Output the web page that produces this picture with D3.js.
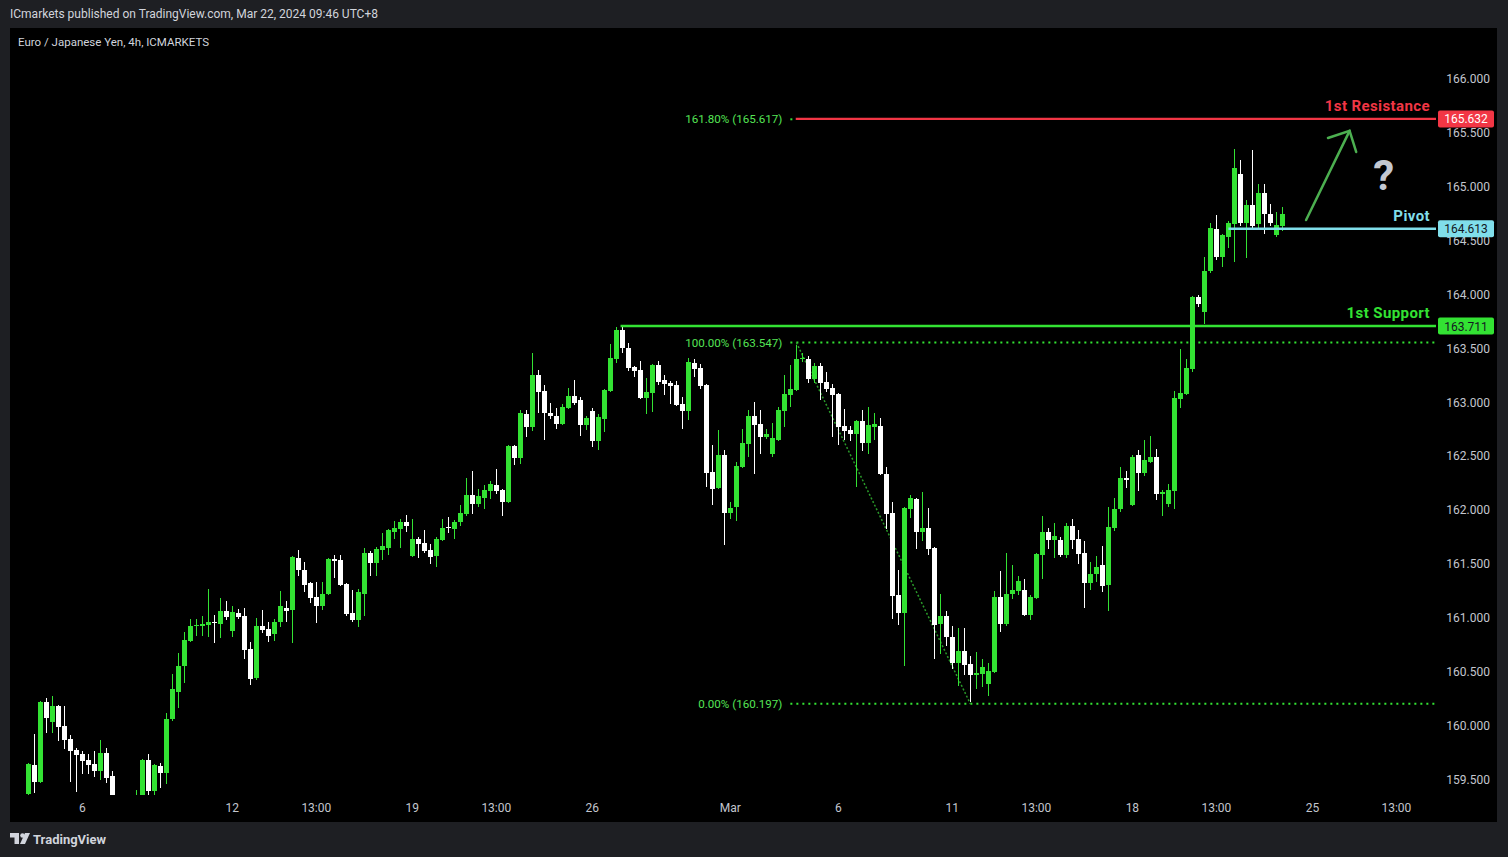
<!DOCTYPE html>
<html><head><meta charset="utf-8">
<script src="https://cdn.jsdelivr.net/npm/d3@7"></script>
<style>
html,body{margin:0;padding:0;background:#1e1f23;}
svg{display:block;font-family:Roboto,"Liberation Sans",sans-serif;}
</style></head><body>
<svg id="c" width="1508" height="857"></svg>
<script>
// ---- data (EUR/JPY 4h) ----
const open=[159.36,159.63,159.47,160.21,160.03,160.18,159.99,159.87,159.77,159.73,159.68,159.64,159.57,159.74,159.53,159.30,159.20,159.25,159.22,159.30,
159.68,159.39,159.62,159.56,160.06,160.31,160.55,160.78,160.92,160.92,160.93,160.96,160.94,161.06,160.87,161.04,161.01,160.71,160.44,160.92,
160.89,160.84,160.96,161.09,161.07,161.55,161.44,161.32,161.19,161.10,161.22,161.54,161.53,161.31,161.04,160.97,161.22,161.60,161.50,161.62,
161.64,161.79,161.82,161.88,161.57,161.73,161.69,161.62,161.57,161.72,161.84,161.82,161.88,161.96,162.13,162.05,162.11,162.17,162.23,162.18,
162.07,162.59,162.48,162.88,162.76,163.25,163.10,162.89,162.87,162.79,162.94,163.05,163.01,162.78,162.91,162.63,162.84,163.10,163.39,163.66,
163.50,163.32,163.29,163.03,163.08,163.34,163.20,163.17,163.15,162.98,162.91,163.36,163.31,163.15,162.35,162.20,162.50,161.97,162.02,162.39,
162.61,162.87,162.79,162.67,162.51,162.64,162.91,163.06,163.11,163.39,163.39,163.21,163.33,163.18,163.13,163.07,162.77,162.74,162.70,162.82,
162.62,162.76,162.77,162.33,161.97,161.21,161.04,162.00,162.10,161.79,161.83,161.64,160.94,161.01,160.82,160.58,160.69,160.57,160.46,160.47,
160.38,160.49,161.19,160.94,161.22,161.24,161.25,161.02,161.18,161.58,161.79,161.72,161.72,161.58,161.85,161.73,161.60,161.32,161.40,161.48,
161.30,161.83,162.00,162.29,162.04,162.50,162.34,162.44,162.49,162.14,162.05,162.17,163.02,163.07,163.30,163.97,163.83,164.21,164.60,164.34,
164.53,164.65,165.11,164.66,164.82,164.65,164.93,164.74,164.54,164.63];
const high=[159.65,159.92,160.22,160.25,160.27,160.19,160.18,159.91,159.79,159.76,159.73,159.76,159.86,159.79,159.57,159.33,159.30,159.32,159.40,159.69,
159.73,159.64,159.65,160.11,160.47,160.67,160.86,160.98,160.98,161.01,161.26,161.02,161.18,161.15,161.10,161.08,161.09,160.77,160.99,161.07,
160.96,160.98,161.24,161.15,161.57,161.62,161.51,161.33,161.33,161.33,161.55,161.58,161.58,161.32,161.25,161.26,161.64,161.61,161.65,161.78,
161.82,161.89,161.91,161.95,161.91,161.74,161.81,161.68,161.74,161.91,161.93,161.90,162.04,162.29,162.36,162.19,162.23,162.26,162.37,162.19,
162.60,162.60,162.92,162.92,163.45,163.29,163.15,162.99,162.94,162.98,163.13,163.20,163.04,162.87,162.94,162.88,163.12,163.53,163.69,163.71,
163.54,163.33,163.38,163.22,163.35,163.38,163.25,163.19,163.19,163.04,163.40,163.39,163.35,163.16,162.60,162.74,162.55,162.07,162.44,162.75,
162.92,163.00,162.92,162.75,162.80,162.95,163.25,163.34,163.52,163.45,163.42,163.36,163.36,163.27,163.16,163.08,162.93,162.77,162.83,162.92,
162.95,162.89,162.85,162.39,162.07,161.44,162.02,162.13,162.11,162.16,162.01,161.65,161.22,161.06,160.92,160.90,160.90,160.64,160.68,160.61,
160.58,161.24,161.43,161.60,161.48,161.38,161.35,161.21,161.60,161.94,161.83,161.87,161.74,161.87,161.91,161.81,161.71,161.51,161.57,161.66,
162.02,162.11,162.39,162.36,162.50,162.55,162.64,162.68,162.56,162.18,162.24,163.10,163.49,163.39,163.98,163.99,164.34,164.66,164.73,164.55,
164.67,165.34,165.24,164.87,165.33,165.02,165.02,164.83,164.76,164.80];
const low=[159.33,159.37,159.46,159.93,159.93,159.85,159.78,159.47,159.38,159.55,159.55,159.52,159.49,159.46,159.28,159.15,159.12,159.15,159.18,159.25,
159.33,159.33,159.42,159.45,160.04,160.16,160.39,160.77,160.83,160.83,160.82,160.76,160.81,160.97,160.82,160.98,160.61,160.37,160.42,160.85,
160.77,160.78,160.91,160.96,160.76,161.38,161.23,161.13,160.95,161.07,161.21,161.36,161.29,161.01,160.96,160.91,161.01,161.38,161.38,161.53,
161.58,161.73,161.64,161.79,161.56,161.55,161.60,161.49,161.47,161.71,161.78,161.73,161.85,161.94,161.96,162.02,162.00,162.10,162.14,161.94,
162.06,162.41,162.42,162.67,162.73,162.89,162.64,162.84,162.75,162.78,162.93,162.97,162.68,162.74,162.58,162.55,162.72,163.09,163.36,163.45,
163.28,163.23,163.02,162.88,162.90,163.15,163.06,162.98,162.96,162.75,162.83,163.23,163.12,162.21,162.04,162.19,161.67,161.91,161.89,162.38,
162.49,162.33,162.51,162.65,162.49,162.63,162.76,162.95,163.10,163.37,163.17,163.17,163.01,163.09,162.67,162.60,162.64,162.63,162.21,162.54,
162.51,162.64,162.32,161.82,160.98,160.93,160.55,161.92,161.63,161.71,161.58,160.61,160.66,160.73,160.52,160.36,160.46,160.21,160.33,160.35,
160.27,160.48,160.86,160.92,161.17,161.21,161.01,160.97,161.17,161.35,161.63,161.55,161.56,161.55,161.63,161.49,161.09,161.25,161.33,161.23,
161.06,161.80,161.98,162.20,162.03,162.17,162.31,162.43,162.09,161.94,162.02,162.00,162.94,163.06,163.27,163.88,163.72,164.19,164.31,164.25,
164.42,164.29,164.63,164.33,164.60,164.59,164.55,164.63,164.53,164.58];
const close=[159.64,159.47,160.21,160.07,160.18,159.98,159.86,159.76,159.72,159.67,159.63,159.57,159.74,159.51,159.30,159.20,159.25,159.22,159.30,159.68,
159.39,159.63,159.56,160.06,160.33,160.55,160.79,160.92,160.93,160.94,160.96,160.95,161.06,161.00,161.05,161.00,160.70,160.43,160.92,160.88,
160.83,160.96,161.10,161.06,161.56,161.44,161.30,161.18,161.10,161.22,161.54,161.52,161.30,161.03,160.97,161.23,161.60,161.50,161.63,161.66,
161.81,161.83,161.88,161.85,161.73,161.68,161.61,161.56,161.73,161.83,161.83,161.88,161.97,162.13,162.05,162.12,162.18,162.24,162.17,162.07,
162.59,162.48,162.89,162.76,163.25,163.09,162.89,162.87,162.79,162.95,163.05,162.99,162.78,162.85,162.63,162.86,163.11,163.40,163.66,163.50,
163.31,163.28,163.03,163.09,163.34,163.18,163.16,163.14,162.97,162.91,163.37,163.30,163.14,162.34,162.19,162.50,161.97,162.01,162.40,162.62,
162.87,162.78,162.67,162.70,162.66,162.92,163.07,163.12,163.39,163.40,163.21,163.33,163.17,163.12,163.06,162.76,162.73,162.70,162.82,162.62,
162.78,162.79,162.33,161.96,161.20,161.04,162.01,162.11,161.79,161.83,161.63,160.93,161.01,160.82,160.58,160.69,160.56,160.46,160.48,160.54,
160.50,161.19,160.94,161.22,161.25,161.34,161.02,161.19,161.59,161.79,161.72,161.75,161.58,161.85,161.72,161.59,161.32,161.40,161.47,161.29,
161.84,162.00,162.29,162.27,162.49,162.34,162.46,162.49,162.14,162.16,162.18,163.03,163.08,163.31,163.97,163.90,164.21,164.61,164.34,164.54,
164.66,165.17,164.66,164.82,164.63,164.93,164.74,164.66,164.64,164.74];

const priceTicks=[159.5,160,160.5,161,161.5,162,162.5,163,163.5,164,164.5,165,165.5,166];
const timeTickIdx=[9,34,48,64,78,94,117,135,154,168,184,198,214,228];
const timeTickLabels=["6","12","13:00","19","13:00","26","Mar","6","11","13:00","18","13:00","25","13:00"];

// fibonacci retracement (anchored from the Mar 4 high to the Mar 11 low)
const fibAnchorIdx=[128,157];
const fibNames=["161.80%","100.00%","0.00%"];
const fibValues=[165.617,163.547,160.197];

// key levels
const levelNames=["1st Resistance","Pivot","1st Support"];
const levelValues=[165.632,164.613,163.711];
const levelStartIdx=[127.9,200,98.7];
const levelColors=["#f23645","#80deea","#33e233"];

// projected move arrow (index, price)
const arrowPts=[[212.95,164.683],[220.2,165.51]];
const arrowHeadL=[216.6,165.444], arrowHeadR=[221.3,165.314];
const questionAt=[225.9,165.0];

// ---- drawing ----
const svg=d3.select("#c");
const W=1508,H=857;
const UP="#33e233", DOWN="#ffffff";
svg.append("rect").attr("width",W).attr("height",H).attr("fill","#1e1f23");
svg.append("rect").attr("x",10).attr("y",28).attr("width",1487).attr("height",794).attr("fill","#000");

const x=d3.scaleLinear().domain([-3.05,234.6]).range([10,1436]);
const y=d3.scaleLinear().domain([159.5,166]).range([779,78]);
const lvlY=v=>y(v)+1.2;

svg.append("defs").append("clipPath").attr("id","plot")
  .append("rect").attr("x",10).attr("y",28).attr("width",1426).attr("height",767);

// header
svg.append("text").attr("x",10).attr("y",18).attr("fill","#d1d4dc").attr("font-size",12)
  .text("ICmarkets published on TradingView.com, Mar 22, 2024 09:46 UTC+8");
svg.append("text").attr("x",18).attr("y",46).attr("fill","#d1d4dc").attr("font-size",11.5)
  .text("Euro / Japanese Yen, 4h, ICMARKETS");

const g=svg.append("g").attr("clip-path","url(#plot)");

// fib levels
const fx0=x(fibAnchorIdx[0])-6, fx1=x.range()[1];
fibValues.forEach((v,k)=>{
  const end = k===0 ? x(levelStartIdx[0]) : fx1;
  g.append("line").attr("x1",fx0).attr("x2",end).attr("y1",y(v)).attr("y2",y(v))
    .attr("stroke",UP).attr("stroke-width",2).attr("stroke-dasharray","2,4");
  g.append("text").attr("x",fx0-8).attr("y",y(v)+4).attr("text-anchor","end")
    .attr("fill","#55e455").attr("font-size",11.6).text(`${fibNames[k]} (${v.toFixed(3)})`);
});
g.append("line").attr("x1",x(fibAnchorIdx[0])).attr("y1",y(fibValues[1]))
  .attr("x2",x(fibAnchorIdx[1])).attr("y2",y(fibValues[2]))
  .attr("stroke","#2a9a2a").attr("stroke-width",1.5).attr("stroke-dasharray","2,2");

// candles
const data=open.map((o,i)=>({i,o,h:high[i],l:low[i],c:close[i]}));
const cg=g.append("g").attr("shape-rendering","crispEdges");
cg.selectAll(".w").data(data).join("rect")
  .attr("x",d=>Math.round(x(d.i))).attr("width",1)
  .attr("y",d=>y(d.h)).attr("height",d=>Math.max(1,y(d.l)-y(d.h)))
  .attr("fill",d=>d.c>=d.o?UP:DOWN);
cg.selectAll(".b").data(data).join("rect")
  .attr("x",d=>Math.round(x(d.i))-2).attr("width",5)
  .attr("y",d=>y(Math.max(d.o,d.c))).attr("height",d=>Math.max(1,Math.abs(y(d.o)-y(d.c))))
  .attr("fill",d=>d.c>=d.o?UP:DOWN);

// key level lines
levelValues.forEach((v,k)=>{
  g.append("line").attr("x1",x(levelStartIdx[k])).attr("x2",x.range()[1])
    .attr("y1",lvlY(v)).attr("y2",lvlY(v)).attr("stroke",levelColors[k]).attr("stroke-width",k===0?2.2:2.5);
  g.append("text").attr("x",1430).attr("y",lvlY(v)-8).attr("text-anchor","end")
    .attr("fill",levelColors[k]).attr("font-size",15).attr("font-weight","bold")
    .attr("letter-spacing",0.4).text(levelNames[k]);
});

// arrow
const ag=g.append("g").attr("stroke","#4caf50").attr("stroke-width",2.5).attr("fill","none").attr("stroke-linecap","round");
ag.append("path").attr("d",d3.line()(arrowPts.map(p=>[x(p[0]),y(p[1])])));
ag.append("path").attr("d",d3.line()([arrowHeadL,arrowPts[1],arrowHeadR].map(p=>[x(p[0]),y(p[1])])));
g.append("text").attr("x",x(questionAt[0])).attr("y",y(questionAt[1])+4).attr("text-anchor","middle")
  .attr("fill","#c3c8d2").attr("font-size",42).attr("font-weight","bold").text("?");

// price axis
svg.append("g").selectAll("text").data(priceTicks).join("text")
  .attr("x",1490).attr("y",d=>y(d)+5).attr("text-anchor","end")
  .attr("fill","#c3c6ce").attr("font-size",12).text(d=>d3.format(".3f")(d));

// price tags
const tagText=["#ffffff","#131722","#131722"];
levelValues.forEach((v,k)=>{
  svg.append("rect").attr("x",1438).attr("y",lvlY(v)-8.5).attr("width",56).attr("height",17)
    .attr("rx",2).attr("fill",levelColors[k]);
  svg.append("text").attr("x",1466).attr("y",lvlY(v)+4.5).attr("text-anchor","middle")
    .attr("fill",tagText[k]).attr("font-size",12).text(v.toFixed(3));
});

// time axis
svg.append("g").selectAll("text").data(timeTickIdx).join("text")
  .attr("x",d=>x(d)).attr("y",812).attr("text-anchor","middle")
  .attr("fill","#c3c6ce").attr("font-size",12).text((d,k)=>timeTickLabels[k]);

// footer logo
const lg=svg.append("g").attr("fill","#d1d4dc");
lg.append("path").attr("d","M10 833 h9 v11 h-4.5 v-6.5 h-4.5 z");
lg.append("circle").attr("cx",22.5).attr("cy",835.5).attr("r",2.3);
lg.append("path").attr("d","M25 833 h5 l-5 11 h-5 z");
svg.append("text").attr("x",33).attr("y",843.5).attr("fill","#d1d4dc").attr("font-size",13)
  .attr("font-weight","bold").text("TradingView");
</script>
</body></html>
